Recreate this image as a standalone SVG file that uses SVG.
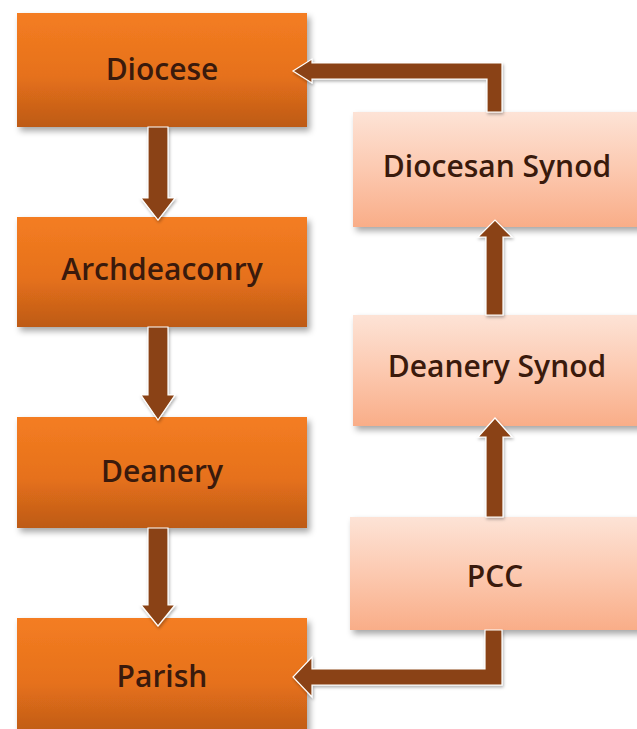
<svg xmlns="http://www.w3.org/2000/svg" width="637" height="729" viewBox="0 0 637 729">
<style>
.lbl{font-family:"Open Sans","DejaVu Sans",sans-serif;font-size:30px;font-weight:600;fill:#3a1a0c;text-anchor:middle}
.dark{fill:url(#gOrange);filter:url(#sh)}
.light{fill:url(#gPeach);filter:url(#sh)}
.conn{fill:#8a4312;stroke:#ffffff;stroke-width:1.2;stroke-linejoin:miter;filter:url(#sh2)}
</style>
<defs>
<linearGradient id="gOrange" x1="0" y1="0" x2="0" y2="1">
<stop offset="0" stop-color="#f47d22"/>
<stop offset="0.55" stop-color="#e6711b"/>
<stop offset="1" stop-color="#bd5a17"/>
</linearGradient>
<linearGradient id="gPeach" x1="0" y1="0" x2="0" y2="1">
<stop offset="0" stop-color="#fde3d6"/>
<stop offset="0.5" stop-color="#fcc9b0"/>
<stop offset="1" stop-color="#f9ad88"/>
</linearGradient>
<filter id="sh" x="-10%" y="-10%" width="125%" height="130%">
<feDropShadow dx="3" dy="4" stdDeviation="3" flood-color="#000" flood-opacity="0.35"/>
</filter>
<filter id="sh2" x="-20%" y="-20%" width="150%" height="150%">
<feDropShadow dx="1" dy="2" stdDeviation="1.5" flood-color="#000" flood-opacity="0.3"/>
</filter>
</defs>
<rect width="637" height="729" fill="#ffffff"/>
<g id="node-diocese"><rect class="dark" x="17" y="13" width="290" height="114"/><text class="lbl" x="162" y="80">Diocese</text></g>
<g id="node-archdeaconry"><rect class="dark" x="17" y="217" width="290" height="110"/><text class="lbl" x="162" y="280">Archdeaconry</text></g>
<g id="node-deanery"><rect class="dark" x="17" y="417" width="290" height="111"/><text class="lbl" x="162" y="482">Deanery</text></g>
<g id="node-parish"><rect class="dark" x="17" y="618" width="290" height="118"/><text class="lbl" x="162" y="687">Parish</text></g>
<g id="node-diocesan-synod"><rect class="light" x="353" y="112" width="290" height="115"/><text class="lbl" x="497" y="177">Diocesan Synod</text></g>
<g id="node-deanery-synod"><rect class="light" x="353" y="315" width="290" height="111"/><text class="lbl" x="497" y="377">Deanery Synod</text></g>
<g id="node-pcc"><rect class="light" x="350" y="517" width="293" height="113"/><text class="lbl" x="495" y="587">PCC</text></g>
<g id="connectors">
<polygon class="conn" points="148,127 168,127 168,198 175,198 158,220 141,198 148,198"/>
<polygon class="conn" points="148,327 168,327 168,395 175,395 158,420 141,395 148,395"/>
<polygon class="conn" points="148,528 168,528 168,605 175,605 158,626 141,605 148,605"/>
<polygon class="conn" points="486,315 503,315 503,237 512,237 495,220 478,237 486,237"/>
<polygon class="conn" points="486,517 503,517 503,437 512,437 495,418 478,437 486,437"/>
<polygon class="conn" points="487,112 502,112 502,63 312,63 312,59 293,71 312,83 312,79 487,79"/>
<polygon class="conn" points="485,630 502,630 502,685 312,685 312,697 293,677 312,657 312,669 485,669"/>
</g>
</svg>
